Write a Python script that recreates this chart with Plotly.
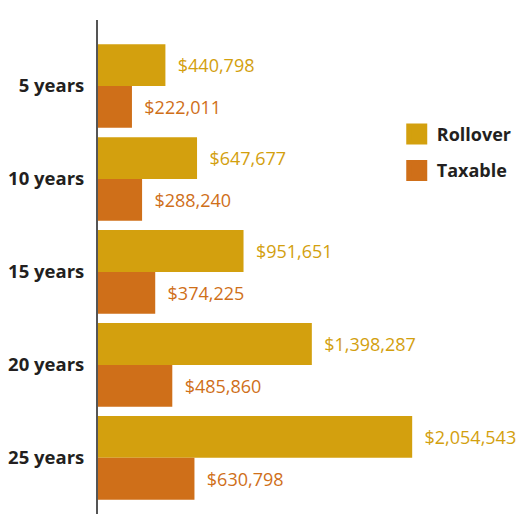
import plotly.graph_objects as go

categories = ["5 years", "10 years", "15 years", "20 years", "25 years"]
rollover = [440798, 647677, 951651, 1398287, 2054543]
taxable = [222011, 288240, 374225, 485860, 630798]
series_names = ["Rollover", "Taxable"]
colors = ["#D3A00E", "#CF6F19"]

fig = go.Figure()
for name, vals, col in zip(series_names, [rollover, taxable], colors):
    fig.add_trace(go.Bar(
        y=categories, x=vals, orientation="h", name=name,
        marker=dict(color=col, line=dict(width=0)),
        texttemplate="\u00a0\u00a0%{x:$,.0f}", textposition="outside",
        textfont=dict(family="Open Sans", size=18, color=col),
        constraintext="none", cliponaxis=False, showlegend=False,
    ))
    fig.add_trace(go.Scatter(
        x=[None], y=[None], mode="markers", name=name, legendgroup=name,
        marker=dict(symbol="square", size=16, color=col, line=dict(color=col, width=5)),
        showlegend=True,
    ))

# page body adds an 8px margin, so the figure is kept small enough not to scroll
fig.update_layout(
    width=509, height=506,
    margin=dict(l=88, r=0, t=12, b=0),
    paper_bgcolor="white", plot_bgcolor="white",
    barmode="group", bargap=0.1, bargroupgap=0,
    xaxis=dict(range=[0, 2740000], visible=False, fixedrange=True),
    yaxis=dict(
        categoryorder="array", categoryarray=categories,
        range=[4.604, -0.71], showline=True, linecolor="#555555", linewidth=2,
        showgrid=False, zeroline=False, ticks="", ticklabelstandoff=8,
        tickfont=dict(family="Open Sans", size=18.5, color="#231f20", weight="bold"),
    ),
    legend=dict(
        x=0.713, y=0.806, xanchor="left", yanchor="top",
        font=dict(family="Open Sans", size=18, color="#231f20", weight="bold"),
        traceorder="grouped", tracegroupgap=10, bgcolor="rgba(0,0,0,0)",
    ),
    showlegend=True,
)

fig.write_html("out.html")
